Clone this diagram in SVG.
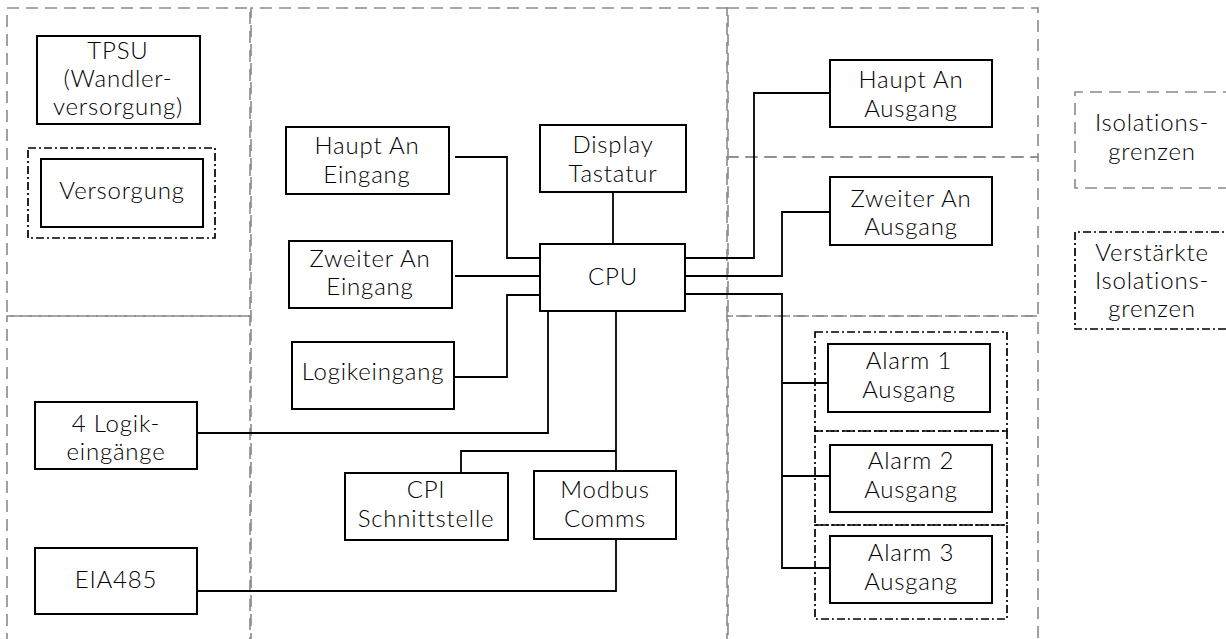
<svg xmlns="http://www.w3.org/2000/svg" width="1226" height="639" viewBox="0 0 1226 639">
<style>
.iso{fill:none;stroke:#8a8a8a;stroke-width:1.6;stroke-dasharray:12 7}
.riso{fill:none;stroke:#000;stroke-width:1.7;stroke-dasharray:8 3 2 3}
.box{fill:#fff;stroke:#000;stroke-width:2}
.wire{fill:none;stroke:#000;stroke-width:1.8}
text{font-family:"Lato","Noto Sans",sans-serif;font-size:24px;font-weight:300;letter-spacing:0.8px;fill:#000;text-anchor:middle}
</style>
<rect width="1226" height="639" fill="#fff"/>
<g id="boundaries">
<rect class="iso" x="7" y="8" width="243" height="308"/>
<path class="iso" d="M7,645 V316 H250 V645"/>
<path class="iso" d="M251,645 V8 H728 V645"/>
<rect class="iso" x="727" y="8" width="311" height="149"/>
<rect class="iso" x="727" y="157" width="311" height="159"/>
<path class="iso" d="M727,645 V316 H1038 V645"/>
<rect class="riso" x="28" y="148" width="187" height="90"/>
<rect class="riso" x="815" y="332" width="192" height="99"/>
<rect class="riso" x="815" y="431" width="192" height="94"/>
<rect class="riso" x="815" y="525" width="192" height="94"/>
</g>
<g id="legend">
<path class="iso" d="M1235,92 H1075 V188 H1235"/>
<text x="1152" y="131">Isolations-</text>
<text x="1152" y="160">grenzen</text>
<path class="riso" d="M1235,232 H1075 V329 H1235"/>
<text x="1152" y="261">Verstärkte</text>
<text x="1152" y="289">Isolations-</text>
<text x="1152" y="317">grenzen</text>
</g>
<g id="connectors">
<path class="wire" d="M455,157 H507 V258 H540"/>
<path class="wire" d="M455,276 H540"/>
<path class="wire" d="M454,377 H507 V295 H540"/>
<path class="wire" d="M613,192 V244"/>
<path class="wire" d="M194,433 H548 V311"/>
<path class="wire" d="M616,311 V471"/>
<path class="wire" d="M616,451 H461 V473"/>
<path class="wire" d="M616,539 V591 H194"/>
<path class="wire" d="M685,258 H754 V93 H830"/>
<path class="wire" d="M685,276 H782 V212 H830"/>
<path class="wire" d="M685,294 H782 V568 H830"/>
<path class="wire" d="M782,383 H828"/>
<path class="wire" d="M782,476 H830"/>
</g>
<g id="tpsu"><rect class="box" x="37" y="36" width="163" height="88"/><text x="118" y="59">TPSU</text><text x="118" y="87">(Wandler-</text><text x="118" y="115">versorgung)</text></g>
<g id="versorgung"><rect class="box" x="41" y="159" width="162" height="68"/><text x="122" y="199">Versorgung</text></g>
<g id="haupt-eingang"><rect class="box" x="286" y="127" width="163" height="67"/><text x="367" y="154">Haupt An</text><text x="367" y="183">Eingang</text></g>
<g id="display"><rect class="box" x="540" y="125" width="146" height="67"/><text x="613" y="153">Display</text><text x="613" y="182">Tastatur</text></g>
<g id="cpu"><rect class="box" x="540" y="244" width="145" height="67"/><text x="613" y="285">CPU</text></g>
<g id="zweiter-eingang"><rect class="box" x="289" y="241" width="163" height="67"/><text x="370" y="267">Zweiter An</text><text x="370" y="295">Eingang</text></g>
<g id="logikeingang"><rect class="box" x="292" y="342" width="162" height="67"/><text x="373" y="380">Logikeingang</text></g>
<g id="cpi"><rect class="box" x="345" y="473" width="163" height="67"/><text x="426" y="498">CPI</text><text x="426" y="527">Schnittstelle</text></g>
<g id="modbus"><rect class="box" x="534" y="471" width="142" height="68"/><text x="605" y="498">Modbus</text><text x="605" y="527">Comms</text></g>
<g id="logik4"><rect class="box" x="35" y="402" width="162" height="67"/><text x="116" y="432">4 Logik-</text><text x="116" y="460">eingänge</text></g>
<g id="eia485"><rect class="box" x="35" y="548" width="162" height="66"/><text x="116" y="588">EIA485</text></g>
<g id="haupt-ausgang"><rect class="box" x="830" y="60" width="162" height="67"/><text x="911" y="88">Haupt An</text><text x="911" y="117">Ausgang</text></g>
<g id="zweiter-ausgang"><rect class="box" x="830" y="177" width="162" height="68"/><text x="911" y="207">Zweiter An</text><text x="911" y="235">Ausgang</text></g>
<g id="alarm1"><rect class="box" x="828" y="344" width="162" height="68"/><text x="909" y="369">Alarm 1</text><text x="909" y="398">Ausgang</text></g>
<g id="alarm2"><rect class="box" x="830" y="445" width="162" height="67"/><text x="911" y="469">Alarm 2</text><text x="911" y="498">Ausgang</text></g>
<g id="alarm3"><rect class="box" x="830" y="536" width="162" height="67"/><text x="911" y="561">Alarm 3</text><text x="911" y="590">Ausgang</text></g>
</svg>
